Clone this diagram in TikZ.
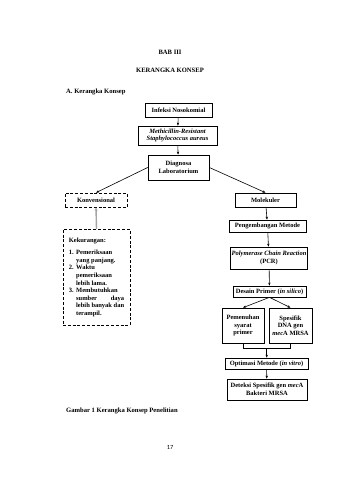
\documentclass[tikz,border=0pt]{standalone}
\usepackage{fontspec}
\setmainfont{Liberation Serif}
\newfontfamily\numfont{Carlito}
\usepackage{xcolor}
\usetikzlibrary{arrows.meta,positioning,calc}
\tikzset{
  box/.style={draw, line width=0.7pt, align=center, font=\fontsize{6.5}{7.6}\selectfont\bfseries, inner sep=1pt, fill=white},
  dbox/.style={box, dash pattern=on 3pt off 1.8pt},
  arr/.style={-{Stealth[length=3pt,width=2.4pt]}, line width=0.6pt},
  garr/.style={-{Stealth[length=3.5pt,width=3pt]}, line width=1.4pt, gray!70},
  heading/.style={font=\fontsize{6.6}{7.8}\selectfont\bfseries, inner sep=0pt}}

\begin{document}
\begin{tikzpicture}[x=1pt, y=-1pt]
  \useasboundingbox[fill=white] (0,0) rectangle (339,480);
  % headings
  \node[heading] (bab) at (170,52) {BAB III};
  \node[heading] (judul) at (170,70) {KERANGKA KONSEP};
  \node[heading, anchor=west] (sub) at (66,92) {A. Kerangka Konsep};
  % main chain
  \node[box, minimum width=67pt, minimum height=14pt] (infeksi) at (178.5,110) {Infeksi Nosokomial};
  \node[box, minimum width=79pt, minimum height=19pt] (mrsa) at (177.5,135.5) {\itshape Methicillin-Resistant\\ \itshape Staphylococcus aureus};
  \node[box, minimum width=61pt, minimum height=25pt] (diagnosa) at (178.5,167.5) {Diagnosa\\ Laboratorium};
  % left branch
  \node[dbox, minimum width=62pt, minimum height=14pt] (konv) at (96,200) {Konvensional};
  \node[dbox, minimum width=67pt, minimum height=96pt, align=left, anchor=north] (kurang) at (96.5,229) {%
    \begin{tabular}{@{}l@{\hspace{2.5pt}}p{48pt}@{}}
      \multicolumn{2}{@{}l@{}}{Kekurangan:}\\[5pt]
      1. & Pemeriksaan\\ & yang panjang.\\
      2. & Waktu\\ & pemeriksaan\\ & lebih lama.\\
      3. & Membutuhkan\\ & sumber\hfill daya\\ & lebih banyak dan\\ & terampil.
    \end{tabular}};
  % right branch
  \node[box, minimum width=61pt, minimum height=14pt] (molek) at (265.5,200) {Molekuler};
  \node[box, minimum width=77pt, minimum height=12pt] (metode) at (267.5,226) {Pengembangan Metode};
  \node[box, minimum width=76pt, minimum height=22pt] (pcr) at (269,258) {\itshape Polymerase Chain Reaction\\ (PCR)};
  \node[box, minimum width=73pt, minimum height=11pt] (desain) at (269.5,291.5) {Desain Primer (\textit{in silico})};
  \node[box, minimum width=42pt, minimum height=35pt] (syarat) at (243,325.5) {Pemenuhan\\ syarat\\ primer};
  \node[box, minimum width=43pt, minimum height=35pt] (spesifik) at (290.5,325.5) {Spesifik\\ DNA gen\\ \textit{mec}A MRSA};
  \node[box, minimum width=83pt, minimum height=11pt] (optimasi) at (266.5,363.5) {Optimasi Metode (\textit{in vitro})};
  \node[box, minimum width=80pt, minimum height=21pt] (deteksi) at (267,389.5) {Deteksi Spesifik gen \textit{mec}A\\ Bakteri MRSA};
  % arrows
  \draw[arr] (infeksi) -- (mrsa);
  \draw[arr] (mrsa) -- (diagnosa);
  \draw[arr] (diagnosa.west) -- (konv.north);
  \draw[arr] (diagnosa.east) -- (molek.north);
  \draw[garr] (kurang.north) -- (konv.south);
  \draw[arr] (molek) -- (metode);
  \draw[arr] (metode) -- (pcr);
  \draw[arr] (pcr) -- (desain);
  \draw[arr] (desain.south) -- (syarat.north);
  \draw[arr] (desain.south) -- (spesifik.north);
  \coordinate (gabung) at ($(syarat.south)!0.5!(spesifik.south)+(0,5)$);
  \draw[line width=0.6pt] (syarat.south) |- (gabung) -| (spesifik.south);
  \draw[arr] (gabung) -- (gabung |- optimasi.north);
  \draw[arr] (optimasi) -- (deteksi);
  % caption and page number
  \node[heading, anchor=west] (caption) at (66,411) {Gambar 1 Kerangka Konsep Penelitian};
  \node[font=\numfont\fontsize{6.3}{7.6}\selectfont, inner sep=0pt] (hal) at (170,447) {17};
\end{tikzpicture}
\end{document}
